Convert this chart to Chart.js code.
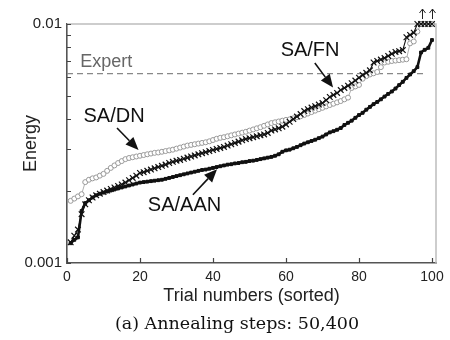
<!DOCTYPE html>
<html><head><meta charset="utf-8">
<script src="https://cdn.jsdelivr.net/npm/chart.js@4/dist/chart.umd.min.js"></script>
<style>html,body{margin:0;padding:0;background:#fff;}#wrap{width:450px;height:340px;}</style>
</head><body><div id="wrap"><canvas id="c" width="450" height="340"></canvas></div>
<script>
// ---- data ----
const trials = Array.from({length: 100}, (_, k) => k + 1);

const saAAN = [
  0.00121,0.00125,0.00128,0.00165,0.00178,0.00183,0.00188,0.00192,0.00195,0.00197,
  0.00199,0.00201,0.00203,0.00205,0.00207,0.00209,0.00211,0.00213,0.00215,0.00217,
  0.00218,0.00219,0.00220,0.00221,0.00222,0.00223,0.00225,0.00227,0.00229,0.00231,
  0.00233,0.00235,0.00237,0.00239,0.00241,0.00243,0.00245,0.00246,0.00248,0.00250,
  0.00252,0.00254,0.00256,0.00258,0.00259,0.00261,0.00262,0.00264,0.00265,0.00267,
  0.00268,0.00270,0.00272,0.00274,0.00276,0.00278,0.00281,0.00285,0.00292,0.00296,
  0.00298,0.00302,0.00306,0.00311,0.00316,0.00320,0.00324,0.00328,0.00333,0.00338,
  0.00345,0.00352,0.00356,0.00361,0.00367,0.00378,0.00386,0.00394,0.00405,0.00416,
  0.00425,0.00438,0.00450,0.00462,0.00472,0.00484,0.00497,0.00510,0.00522,0.00537,
  0.00555,0.00573,0.00595,0.00615,0.00635,0.00660,0.00760,0.00780,0.00795,0.00857
];

const saFN = [
  0.00122,0.00130,0.00138,0.00160,0.00176,0.00183,0.00188,0.00192,0.00195,0.00198,
  0.00201,0.00204,0.00207,0.00210,0.00213,0.00217,0.00222,0.00227,0.00232,0.00238,
  0.00240,0.00243,0.00246,0.00249,0.00252,0.00255,0.00258,0.00262,0.00265,0.00268,
  0.00270,0.00273,0.00276,0.00279,0.00282,0.00285,0.00288,0.00291,0.00294,0.00297,
  0.00300,0.00303,0.00306,0.00310,0.00314,0.00318,0.00322,0.00326,0.00330,0.00333,
  0.00336,0.00339,0.00342,0.00345,0.00350,0.00358,0.00362,0.00366,0.00372,0.00380,
  0.00390,0.00400,0.00410,0.00420,0.00432,0.00440,0.00447,0.00453,0.00460,0.00467,
  0.00480,0.00495,0.00505,0.00515,0.00529,0.00540,0.00552,0.00565,0.00580,0.00596,
  0.00612,0.00625,0.00640,0.00690,0.00700,0.00710,0.00720,0.00735,0.00750,0.00764,
  0.00770,0.00778,0.00880,0.00900,0.00920,0.0100,0.0100,0.0100,0.0100,0.0100
];

const saDN = [
  0.00182,0.00186,0.00190,0.00194,0.00218,0.00223,0.00226,0.00228,0.00232,0.00236,
  0.00243,0.00250,0.00256,0.00262,0.00267,0.00272,0.00275,0.00277,0.00279,0.00281,
  0.00283,0.00285,0.00287,0.00289,0.00290,0.00292,0.00294,0.00296,0.00298,0.00301,
  0.00304,0.00307,0.00310,0.00312,0.00314,0.00316,0.00318,0.00320,0.00323,0.00327,
  0.00331,0.00334,0.00336,0.00339,0.00342,0.00345,0.00348,0.00351,0.00354,0.00358,
  0.00362,0.00366,0.00370,0.00375,0.00380,0.00385,0.00388,0.00391,0.00394,0.00397,
  0.00399,0.00403,0.00407,0.00411,0.00416,0.00422,0.00428,0.00434,0.00440,0.00446,
  0.00452,0.00458,0.00464,0.00470,0.00476,0.00484,0.00492,0.00540,0.00548,0.00556,
  0.00590,0.00605,0.00615,0.00622,0.00630,0.00660,0.00690,0.00695,0.00700,0.00703,
  0.00706,0.00709,0.00712,0.00830,0.00845,0.00930,0.0100,0.0100,0.0100,0.0100
];

const expertLevel = 0.0062;
const expertSpan = [0, 98.6];
const offScaleTrials = [97.3, 100];

const xTicks = [0, 20, 40, 60, 80, 100];
const yTicks = [0.001,0.002,0.003,0.004,0.005,0.006,0.007,0.008,0.009,0.01];
const yLabelled = [0.001, 0.01];

const notes = [
  {text: 'SA/FN',  x: 66.6, y: 0.00774, from: [67.9, 0.00687], to: [72.9, 0.00542]},
  {text: 'SA/DN',  x: 12.9, y: 0.00410, from: [13.7, 0.00367], to: [19.6, 0.00297]},
  {text: 'SA/AAN', x: 32.2, y: 0.00174, from: [34.5, 0.00193], to: [41.1, 0.00247]}
];
const expertNote = {text: 'Expert', x: 3.6, y: 0.00693};
const caption = '(a) Annealing steps: 50,400';

// ---- drawing ----
const SANS = '"Liberation Sans", Arial, sans-serif';

const decor = {
  id: 'decor',
  beforeDatasetsDraw(chart) {
    const {ctx, chartArea: a, scales: {x, y}} = chart;
    ctx.save();
    // light top / right frame
    ctx.strokeStyle = '#bdbdbd';
    ctx.lineWidth = 1.5;
    ctx.beginPath();
    ctx.moveTo(a.left, a.top); ctx.lineTo(a.right, a.top); ctx.lineTo(a.right, a.bottom);
    ctx.stroke();
    // inward tick marks
    ctx.strokeStyle = '#444';
    ctx.lineWidth = 1.2;
    ctx.beginPath();
    y.ticks.forEach(t => {
      const py = Math.round(y.getPixelForValue(t.value)) + 0.5;
      ctx.moveTo(a.left, py); ctx.lineTo(a.left + 4, py);
    });
    x.ticks.forEach(t => {
      const px = Math.round(x.getPixelForValue(t.value)) + 0.5;
      ctx.moveTo(px, a.bottom); ctx.lineTo(px, a.bottom - 5);
    });
    ctx.stroke();
    ctx.restore();
  },
  afterDatasetsDraw(chart) {
    const {ctx, chartArea: a, scales: {x, y}} = chart;
    ctx.save();
    // annotations
    ctx.fillStyle = '#111';
    ctx.font = '20px ' + SANS;
    ctx.textAlign = 'center';
    ctx.textBaseline = 'middle';
    notes.forEach(n => {
      ctx.fillText(n.text, x.getPixelForValue(n.x), y.getPixelForValue(n.y));
      const x1 = x.getPixelForValue(n.from[0]), y1 = y.getPixelForValue(n.from[1]);
      const x2 = x.getPixelForValue(n.to[0]), y2 = y.getPixelForValue(n.to[1]);
      const ang = Math.atan2(y2 - y1, x2 - x1);
      const L = 13, W = 5.5;
      const bx = x2 - L * Math.cos(ang), by = y2 - L * Math.sin(ang);
      ctx.strokeStyle = '#111'; ctx.lineWidth = 1.6;
      ctx.beginPath(); ctx.moveTo(x1, y1); ctx.lineTo(bx, by); ctx.stroke();
      ctx.beginPath();
      ctx.moveTo(x2, y2);
      ctx.lineTo(bx + W * Math.sin(ang), by - W * Math.cos(ang));
      ctx.lineTo(bx - W * Math.sin(ang), by + W * Math.cos(ang));
      ctx.closePath(); ctx.fill();
    });
    // Expert label
    ctx.fillStyle = '#666';
    ctx.font = '18px ' + SANS;
    ctx.textAlign = 'left';
    ctx.fillText(expertNote.text, x.getPixelForValue(expertNote.x), y.getPixelForValue(expertNote.y));
    // off-scale arrows
    ctx.strokeStyle = '#222'; ctx.lineWidth = 1;
    offScaleTrials.forEach(t => {
      const px = Math.round(x.getPixelForValue(t)) + 0.5;
      const top = a.top - 15, bot = a.top - 5;
      ctx.beginPath();
      ctx.moveTo(px, bot); ctx.lineTo(px, top);
      ctx.moveTo(px - 3, top + 4); ctx.lineTo(px, top); ctx.lineTo(px + 3, top + 4);
      ctx.stroke();
    });
    ctx.restore();
  },
  afterDraw(chart) {
    const {ctx} = chart;
    ctx.save();
    ctx.fillStyle = '#111';
    ctx.font = '17.5px "DejaVu Serif", serif';
    ctx.textAlign = 'center';
    ctx.textBaseline = 'middle';
    ctx.fillText(caption, 237, 324);
    ctx.restore();
  }
};

const pts = arr => trials.map((t, k) => ({x: t, y: arr[k]}));

new Chart(document.getElementById('c'), {
  type: 'line',
  data: {
    datasets: [
      {label: 'SA/AAN', data: pts(saAAN), borderColor: '#111', backgroundColor: '#111',
       borderWidth: 2.6, pointStyle: 'rect', pointRadius: 2, pointBorderWidth: 1,
       pointBackgroundColor: '#111', pointBorderColor: '#111', order: 0, clip: 8},
      {label: 'SA/FN', data: pts(saFN), borderColor: '#111', backgroundColor: '#111',
       borderWidth: 1.1, pointStyle: 'crossRot', pointRadius: 4, pointBorderWidth: 1.2,
       pointBorderColor: '#111', order: 1, clip: 8},
      {label: 'SA/DN', data: pts(saDN), borderColor: '#b0b0b0', backgroundColor: '#fff',
       borderWidth: 1, pointStyle: 'circle', pointRadius: 2.5, pointBorderWidth: 1,
       pointBorderColor: '#999', pointBackgroundColor: '#fff', order: 2, clip: 8},
      {label: 'Expert', data: expertSpan.map(v => ({x: v, y: expertLevel})),
       borderColor: '#888', borderDash: [6, 4], borderWidth: 1.3, pointRadius: 0, order: 3}
    ]
  },
  options: {
    responsive: false,
    devicePixelRatio: 1,
    animation: false,
    layout: {padding: {left: 0, right: 14, top: 24, bottom: 30}},
    plugins: {legend: {display: false}, tooltip: {enabled: false}},
    scales: {
      x: {
        type: 'linear', min: 0, max: 101.1,
        afterBuildTicks: s => { s.ticks = xTicks.map(v => ({value: v})); },
        afterFit: s => { s.height = 47; },
        ticks: {font: {family: SANS, size: 14}, color: '#222', padding: 6, maxRotation: 0, autoSkip: false},
        grid: {drawOnChartArea: false, drawTicks: false},
        border: {color: '#555', width: 1.6},
        title: {display: true, text: 'Trial numbers (sorted)', font: {family: SANS, size: 18},
                color: '#222', padding: {top: 0, bottom: 3}}
      },
      y: {
        type: 'logarithmic', min: 0.001, max: 0.01,
        afterBuildTicks: s => { s.ticks = yTicks.map(v => ({value: v})); },
        afterFit: s => { s.width = 67; },
        ticks: {font: {family: SANS, size: 15}, color: '#222', padding: 5, autoSkip: false,
                callback: v => yLabelled.includes(v) ? String(v) : ''},
        grid: {drawOnChartArea: false, drawTicks: false},
        border: {color: '#555', width: 1.6},
        title: {display: true, text: 'Energy', font: {family: SANS, size: 18},
                color: '#222', padding: {top: 20, bottom: 0}}
      }
    }
  },
  plugins: [decor]
});
</script>
</body></html>
